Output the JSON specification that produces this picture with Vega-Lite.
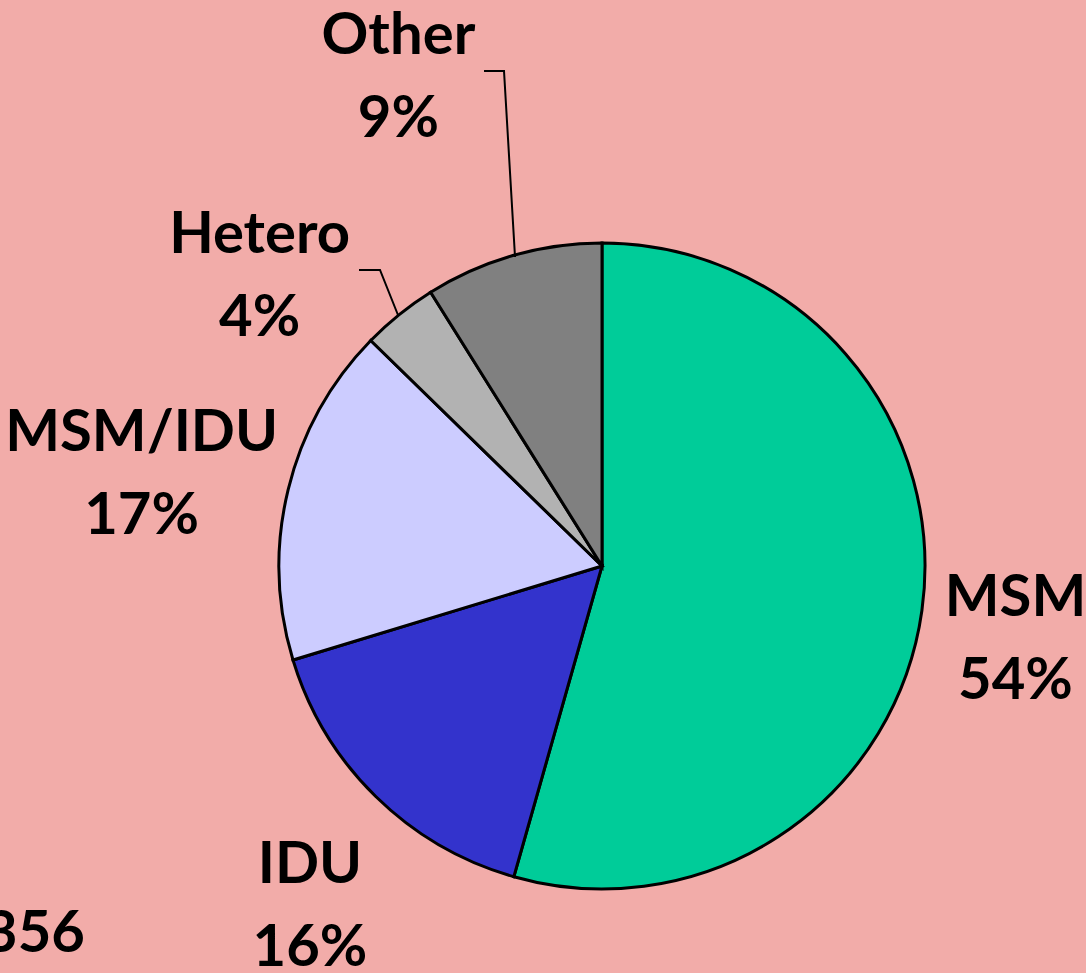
{
  "$schema": "https://vega.github.io/schema/vega-lite/v6.json",
  "width": 646,
  "height": 646,
  "autosize": {"type": "none"},
  "padding": {"left": 279, "top": 243, "right": 161, "bottom": 84},
  "background": "#F2ACA9",
  "config": {
    "view": {"stroke": null},
    "text": {"font": "Lato", "fontSize": 58, "fontWeight": "bold", "color": "#000000"}
  },
  "datasets": {
    "slices": [
      {"category": "MSM", "share": 0.544, "ord": 1},
      {"category": "IDU", "share": 0.159, "ord": 2},
      {"category": "MSM/IDU", "share": 0.170, "ord": 3},
      {"category": "Hetero", "share": 0.038, "ord": 4},
      {"category": "Other", "share": 0.089, "ord": 5}
    ],
    "leaders": [
      {"leader": "Other", "step": 1, "x": -0.3653, "y": 1.5325},
      {"leader": "Other", "step": 2, "x": -0.3034, "y": 1.5325},
      {"leader": "Other", "step": 3, "x": -0.2693, "y": 0.9567},
      {"leader": "Hetero", "step": 1, "x": -0.7523, "y": 0.9164},
      {"leader": "Hetero", "step": 2, "x": -0.6873, "y": 0.9164},
      {"leader": "Hetero", "step": 3, "x": -0.6316, "y": 0.7771}
    ],
    "notes": [
      {"note": "356", "x": -1.6006, "y": -1.195}
    ]
  },
  "layer": [
    {
      "data": {"name": "slices"},
      "mark": {"type": "arc", "outerRadius": 323, "stroke": "#000000", "strokeWidth": 3},
      "encoding": {
        "theta": {"field": "share", "type": "quantitative", "stack": true},
        "order": {"field": "ord", "type": "quantitative"},
        "color": {
          "field": "category", "type": "nominal", "legend": null,
          "scale": {
            "domain": ["MSM", "IDU", "MSM/IDU", "Hetero", "Other"],
            "range": ["#00CC99", "#3333CC", "#CCCCFF", "#B2B2B2", "#808080"]
          }
        }
      }
    },
    {
      "data": {"name": "leaders"},
      "mark": {"type": "line", "stroke": "#000000", "strokeWidth": 2},
      "encoding": {
        "x": {"field": "x", "type": "quantitative", "axis": null, "scale": {"domain": [-1, 1], "nice": false, "zero": false}},
        "y": {"field": "y", "type": "quantitative", "axis": null, "scale": {"domain": [-1, 1], "nice": false, "zero": false}},
        "detail": {"field": "leader", "type": "nominal"},
        "order": {"field": "step", "type": "quantitative"}
      }
    },
    {
      "data": {"name": "notes"},
      "mark": {"type": "text", "align": "right", "baseline": "alphabetic"},
      "encoding": {
        "x": {"field": "x", "type": "quantitative", "axis": null, "scale": {"domain": [-1, 1], "nice": false, "zero": false}},
        "y": {"field": "y", "type": "quantitative", "axis": null, "scale": {"domain": [-1, 1], "nice": false, "zero": false}},
        "text": {"field": "note", "type": "nominal"}
      }
    },
    {
      "data": {"name": "slices"},
      "mark": {"type": "text", "radius": 419.5, "dx": -2, "dy": -8, "baseline": "alphabetic", "align": "center"},
      "encoding": {
        "theta": {"field": "share", "type": "quantitative", "stack": true},
        "order": {"field": "ord", "type": "quantitative"},
        "text": {"condition": {"test": "datum.category === 'MSM'", "field": "category", "type": "nominal"}, "value": ""}
      }
    },
    {
      "data": {"name": "slices"},
      "mark": {"type": "text", "radius": 419.5, "dx": -2, "dy": 75, "baseline": "alphabetic", "align": "center"},
      "encoding": {
        "theta": {"field": "share", "type": "quantitative", "stack": true},
        "order": {"field": "ord", "type": "quantitative"},
        "text": {"condition": {"test": "datum.category === 'MSM'", "field": "share", "type": "quantitative", "format": ".0%"}, "value": ""}
      }
    },
    {
      "data": {"name": "slices"},
      "mark": {"type": "text", "radius": 447, "dx": 21, "dy": -2, "baseline": "alphabetic", "align": "center"},
      "encoding": {
        "theta": {"field": "share", "type": "quantitative", "stack": true},
        "order": {"field": "ord", "type": "quantitative"},
        "text": {"condition": {"test": "datum.category === 'IDU'", "field": "category", "type": "nominal"}, "value": ""}
      }
    },
    {
      "data": {"name": "slices"},
      "mark": {"type": "text", "radius": 447, "dx": 21, "dy": 81, "baseline": "alphabetic", "align": "center"},
      "encoding": {
        "theta": {"field": "share", "type": "quantitative", "stack": true},
        "order": {"field": "ord", "type": "quantitative"},
        "text": {"condition": {"test": "datum.category === 'IDU'", "field": "share", "type": "quantitative", "format": ".0%"}, "value": ""}
      }
    },
    {
      "data": {"name": "slices"},
      "mark": {"type": "text", "radius": 469.7, "dx": -4, "dy": -4, "baseline": "alphabetic", "align": "center"},
      "encoding": {
        "theta": {"field": "share", "type": "quantitative", "stack": true},
        "order": {"field": "ord", "type": "quantitative"},
        "text": {"condition": {"test": "datum.category === 'MSM/IDU'", "field": "category", "type": "nominal"}, "value": ""}
      }
    },
    {
      "data": {"name": "slices"},
      "mark": {"type": "text", "radius": 469.7, "dx": -4, "dy": 79, "baseline": "alphabetic", "align": "center"},
      "encoding": {
        "theta": {"field": "share", "type": "quantitative", "stack": true},
        "order": {"field": "ord", "type": "quantitative"},
        "text": {"condition": {"test": "datum.category === 'MSM/IDU'", "field": "share", "type": "quantitative", "format": ".0%"}, "value": ""}
      }
    },
    {
      "data": {"name": "slices"},
      "mark": {"type": "text", "radius": 451.5, "dx": -59, "dy": 38, "baseline": "alphabetic", "align": "center"},
      "encoding": {
        "theta": {"field": "share", "type": "quantitative", "stack": true},
        "order": {"field": "ord", "type": "quantitative"},
        "text": {"condition": {"test": "datum.category === 'Hetero'", "field": "category", "type": "nominal"}, "value": ""}
      }
    },
    {
      "data": {"name": "slices"},
      "mark": {"type": "text", "radius": 451.5, "dx": -59, "dy": 121, "baseline": "alphabetic", "align": "center"},
      "encoding": {
        "theta": {"field": "share", "type": "quantitative", "stack": true},
        "order": {"field": "ord", "type": "quantitative"},
        "text": {"condition": {"test": "datum.category === 'Hetero'", "field": "share", "type": "quantitative", "format": ".0%"}, "value": ""}
      }
    },
    {
      "data": {"name": "slices"},
      "mark": {"type": "text", "radius": 531.2, "dx": -57, "dy": -1, "baseline": "alphabetic", "align": "center"},
      "encoding": {
        "theta": {"field": "share", "type": "quantitative", "stack": true},
        "order": {"field": "ord", "type": "quantitative"},
        "text": {"condition": {"test": "datum.category === 'Other'", "field": "category", "type": "nominal"}, "value": ""}
      }
    },
    {
      "data": {"name": "slices"},
      "mark": {"type": "text", "radius": 531.2, "dx": -57, "dy": 82, "baseline": "alphabetic", "align": "center"},
      "encoding": {
        "theta": {"field": "share", "type": "quantitative", "stack": true},
        "order": {"field": "ord", "type": "quantitative"},
        "text": {"condition": {"test": "datum.category === 'Other'", "field": "share", "type": "quantitative", "format": ".0%"}, "value": ""}
      }
    }
  ]
}
